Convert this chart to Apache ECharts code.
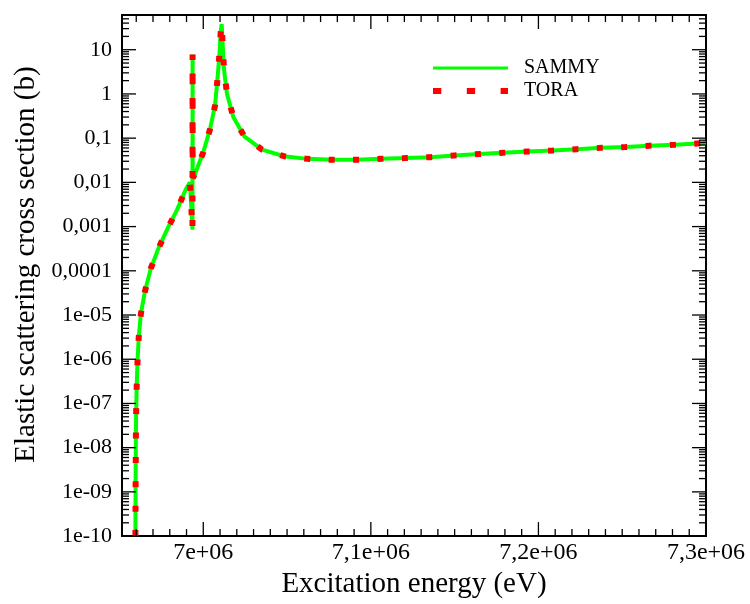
<!DOCTYPE html>
<html>
<head>
<meta charset="utf-8">
<script src="https://cdn.jsdelivr.net/npm/echarts@6/dist/echarts.min.js"></script>
<style>
html,body{margin:0;padding:0;background:#fff;}
#chart{width:750px;height:604px;}
</style>
</head>
<body>
<div id="chart"></div>
<script>
// ---- data ----
const energies = [6959500, 6959560, 6959620, 6959710, 6959790, 6959970, 6960270, 6960750, 6961470, 6962780,
  6965170, 6968760, 6973360, 6978730, 6984470, 6989660, 6992050, 6993560, 6993620, 6993680,
  6995040, 7000000, 7004000, 7006990, 7008360, 7009560, 7010390, 7010990, 7011590, 7012370,
  7014160, 7017920, 7024490, 7035070, 7048210, 7061950, 7076890, 7091220, 7106160, 7120500,
  7135400, 7149800, 7164700, 7179000, 7193400, 7208400, 7222700, 7237600, 7252000, 7266300,
  7281200, 7294900, 7300000];
const sammyValues = [1e-10, 4e-10, 1.45e-9, 5.2e-9, 1.86e-8, 6.9e-8, 2.45e-7, 8.7e-7, 3.1e-6, 1.07e-5,
  3.4e-5, 1.15e-4, 3.3e-4, 9.1e-4, 2.45e-3, 7.1e-3, 0.010, 8.5e-4, 7.8, 0.0126,
  0.0155, 0.048, 0.158, 0.54, 1.95, 7.1, 25, 38, 12.9, 3.55,
  1.0, 0.30, 0.11, 0.055, 0.039, 0.034, 0.0324, 0.0324, 0.034, 0.0355,
  0.0372, 0.0407, 0.0437, 0.0468, 0.050, 0.0525, 0.0562, 0.0603, 0.063, 0.0676,
  0.0708, 0.0759, 0.0776];
const toraValues = [1e-10, 4e-10, 1.45e-9, 5.2e-9, 1.86e-8, 6.9e-8, 2.45e-7, 8.7e-7, 3.1e-6, 1.07e-5,
  3.4e-5, 1.15e-4, 3.3e-4, 9.1e-4, 2.45e-3, 7.1e-3, 0.010, 8.5e-4, 7.8, 0.0126,
  0.0155, 0.048, 0.158, 0.54, 1.95, 7.1, 25, 38, 12.9, 3.55,
  1.0, 0.30, 0.11, 0.055, 0.039, 0.034, 0.0324, 0.0324, 0.034, 0.0355,
  0.0372, 0.0407, 0.0437, 0.0468, 0.050, 0.0525, 0.0562, 0.0603, 0.063, 0.0676,
  0.0708, 0.0759, 0.0776];
const seriesNames = ['SAMMY', 'TORA'];

const xTickValues = [7.0e6, 7.1e6, 7.2e6, 7.3e6];
const xTickLabels = ['7e+06', '7,1e+06', '7,2e+06', '7,3e+06'];
const yTickValues = [1e-10, 1e-9, 1e-8, 1e-7, 1e-6, 1e-5, 1e-4, 1e-3, 1e-2, 1e-1, 1, 10];
const yTickLabels = ['1e-10', '1e-09', '1e-08', '1e-07', '1e-06', '1e-05', '0,0001', '0,001', '0,01', '0,1', '1', '10'];

const xMin = 6.9515e6, xMax = 7.3e6, xMinorStep = 1e4;
const yMin = 1e-10, yMax = 61;

// ---- helpers ----
const FONT = 'Liberation Serif';
function fmtX(v) {
  for (let i = 0; i < xTickValues.length; i++) if (Math.abs(v - xTickValues[i]) < 1) return xTickLabels[i];
  return '';
}
function fmtY(v) {
  for (let i = 0; i < yTickValues.length; i++) if (Math.abs(v / yTickValues[i] - 1) < 1e-6) return yTickLabels[i];
  return '';
}

// tick marks (inside, mirrored on all four sides), kind: 0 x-major, 1 x-minor, 2 y-major, 3 y-minor
const tickData = [];
xTickValues.forEach(v => tickData.push([v, 1, 0]));
const xMinorStart = Math.ceil(xMin / xMinorStep) * xMinorStep;
for (let i = 0; xMinorStart + i * xMinorStep <= xMax + 1; i++) {
  const v = xMinorStart + i * xMinorStep;
  if (!xTickValues.some(t => Math.abs(t - v) < 1)) tickData.push([v, 1, 1]);
}
yTickValues.forEach(v => tickData.push([7.1e6, v, 2]));
for (let k = -10; k <= 1; k++) {
  for (let m = 2; m <= 9; m++) {
    const v = m * Math.pow(10, k);
    if (v < yMax) tickData.push([7.1e6, v, 3]);
  }
}
function renderTick(params, api) {
  const cs = params.coordSys;
  const kind = api.value(2);
  const p = api.coord([api.value(0), api.value(1)]);
  const len = (kind === 0 || kind === 2) ? 14 : 7;
  const style = { stroke: '#000', lineWidth: 1.3 };
  let segs;
  if (kind < 2) {
    const x = p[0];
    segs = [[x, cs.y + cs.height, x, cs.y + cs.height - len], [x, cs.y, x, cs.y + len]];
  } else {
    const y = p[1];
    segs = [[cs.x, y, cs.x + len, y], [cs.x + cs.width, y, cs.x + cs.width - len, y]];
  }
  return {
    type: 'group',
    children: segs.map(s => ({ type: 'line', shape: { x1: s[0], y1: s[1], x2: s[2], y2: s[3] }, style: style }))
  };
}

const chart = echarts.init(document.getElementById('chart'), null, { renderer: 'canvas' });
chart.setOption({
  animation: false,
  backgroundColor: '#fff',
  grid: { left: 122, right: 44, top: 15, bottom: 64, show: true, borderColor: '#000', borderWidth: 2, backgroundColor: 'transparent' },
  legend: {
    data: [
      { name: seriesNames[0], lineStyle: { width: 3 } },
      { name: seriesNames[1], lineStyle: { width: 6, type: [8.3, 25.5] } }
    ],
    left: 430, top: 58, orient: 'vertical', padding: 0,
    itemWidth: 75, itemHeight: 14, itemGap: 3,
    itemStyle: { opacity: 0, borderWidth: 0 },
    textStyle: { fontFamily: FONT, fontSize: 20, color: '#000', lineHeight: 20, padding: [0, 0, 0, 11] }
  },
  xAxis: {
    type: 'value', min: xMin, max: xMax, interval: 500,
    axisLine: { show: false }, axisTick: { show: false }, splitLine: { show: false },
    axisLabel: { formatter: fmtX, fontFamily: FONT, fontSize: 24, color: '#000', margin: 5 },
    name: 'Excitation energy (eV)', nameLocation: 'middle', nameGap: 32,
    nameTextStyle: { fontFamily: FONT, fontSize: 29, color: '#000' }
  },
  yAxis: {
    type: 'log', logBase: 10, min: yMin, max: yMax, interval: 1,
    axisLine: { show: false }, axisTick: { show: false }, splitLine: { show: false }, minorTick: { show: false },
    axisLabel: { formatter: fmtY, fontFamily: FONT, fontSize: 22, color: '#000', margin: 10 },
    name: 'Elastic scattering cross section (b)', nameLocation: 'middle', nameRotate: 90, nameGap: 74,
    nameTextStyle: { fontFamily: FONT, fontSize: 29, color: '#000', padding: [0, 0, 0, 22] }
  },
  series: [
    {
      name: 'SAMMY', type: 'line', showSymbol: false, symbol: 'none', smooth: false, clip: true,
      data: energies.map((e, i) => [e, sammyValues[i]]),
      lineStyle: { color: '#00ff00', width: 4 }, itemStyle: { color: '#00ff00' }, z: 2
    },
    {
      name: 'TORA', type: 'line', showSymbol: false, symbol: 'none', smooth: false, clip: true,
      data: energies.map((e, i) => [e, toraValues[i]]),
      lineStyle: { color: '#ff0000', width: 6, type: [6, 18.4], cap: 'butt' }, itemStyle: { color: '#ff0000' }, z: 3
    },
    {
      name: 'ticks', type: 'custom', renderItem: renderTick, data: tickData,
      encode: { x: 0, y: 1 }, silent: true, clip: false, z: 5
    }
  ]
});
</script>
</body>
</html>
